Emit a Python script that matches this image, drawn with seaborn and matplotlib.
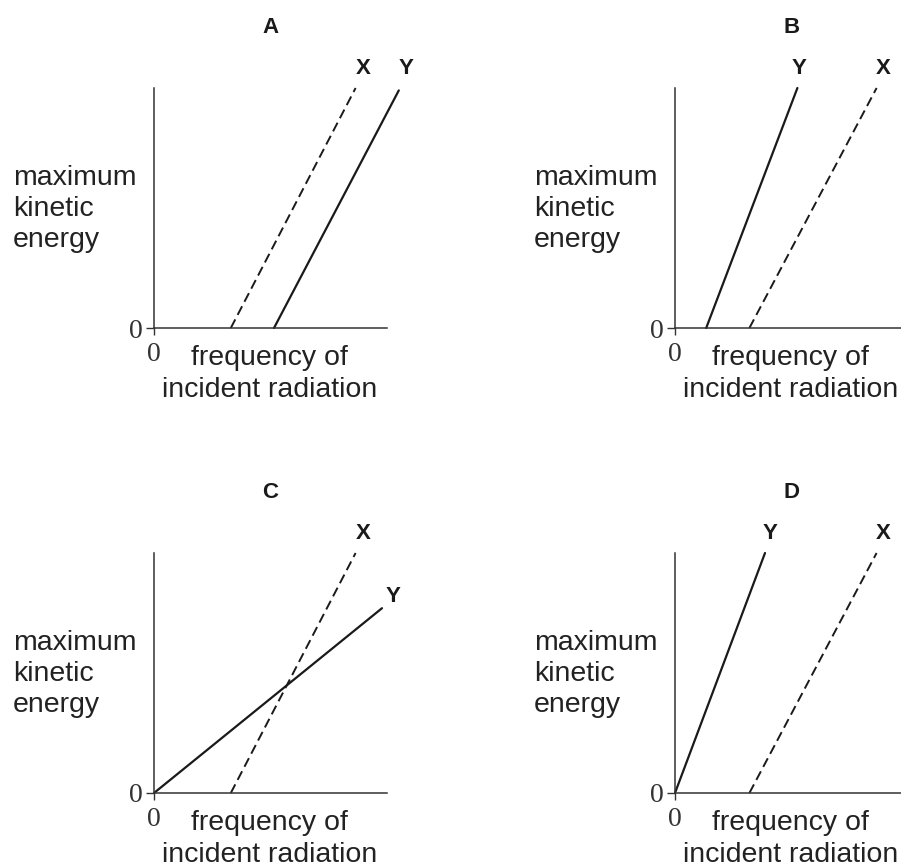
import matplotlib
matplotlib.use("Agg")
import matplotlib.pyplot as plt
import seaborn as sns

# line endpoints (frequency, max KE) in arbitrary units
A_X_freq = [3.2, 8.4];  A_X_ke = [0, 10]
A_Y_freq = [5.0, 10.2]; A_Y_ke = [0, 9.9]
B_Y_freq = [1.3, 5.1];  B_Y_ke = [0, 10]
B_X_freq = [3.1, 8.4];  B_X_ke = [0, 10]
C_X_freq = [3.2, 8.4];  C_X_ke = [0, 10]
C_Y_freq = [0, 9.5];    C_Y_ke = [0, 7.7]
D_Y_freq = [0, 3.75];   D_Y_ke = [0, 10]
D_X_freq = [3.1, 8.4];  D_X_ke = [0, 10]

panel_names = ["A", "B", "C", "D"]
# where the X / Y letters sit (data units)
label_pos = {
    "A": {"X": (8.7, 10.83), "Y": (10.5, 10.83)},
    "B": {"X": (8.67, 10.83), "Y": (5.17, 10.83)},
    "C": {"X": (8.7, 10.83), "Y": (9.96, 8.17)},
    "D": {"X": (8.67, 10.83), "Y": (3.96, 10.83)},
}
lines = {
    "A": {"X": (A_X_freq, A_X_ke), "Y": (A_Y_freq, A_Y_ke)},
    "B": {"X": (B_X_freq, B_X_ke), "Y": (B_Y_freq, B_Y_ke)},
    "C": {"X": (C_X_freq, C_X_ke), "Y": (C_Y_freq, C_Y_ke)},
    "D": {"X": (D_X_freq, D_X_ke), "Y": (D_Y_freq, D_Y_ke)},
}

sns.set_style("white")
plt.rcParams["font.family"] = ["Liberation Sans", "DejaVu Sans"]

W, H = 901, 866
fig = plt.figure(figsize=(W / 100, H / 100), dpi=100)

# axes origin in pixels (left, bottom from top)
origins = {"A": (154, 328), "B": (675, 328), "C": (154, 793), "D": (675, 793)}
size = 252  # px for 10.5 units

ink = "#1a1a1a"
axis_col = "#333333"
for name in panel_names:
    ox, oy = origins[name]
    ax = fig.add_axes([ox / W, 1 - oy / H, size / W, size / H])
    ax.set_xlim(0, 10.5)
    ax.set_ylim(0, 10.5)

    fx, kx = lines[name]["X"]
    fy, ky = lines[name]["Y"]
    sns.lineplot(x=fx, y=kx, ax=ax, color=ink, lw=1.4, linestyle=(0, (5.0, 2.6)),
                 clip_on=False)
    sns.lineplot(x=fy, y=ky, ax=ax, color=ink, lw=1.6, clip_on=False)

    for s in ["top", "right"]:
        ax.spines[s].set_visible(False)
    ax.spines["left"].set_bounds(0, 10)
    ax.spines["bottom"].set_bounds(0, 9.7)
    for s in ["left", "bottom"]:
        ax.spines[s].set_color(axis_col)
        ax.spines[s].set_linewidth(1.1)

    ax.set_xticks([0])
    ax.set_yticks([0])
    ax.set_xticklabels(["0"], family="Liberation Serif", fontsize=20, color=axis_col)
    ax.set_yticklabels(["0"], family="Liberation Serif", fontsize=20, color=axis_col)
    ax.tick_params(axis="y", length=5.8, width=1, pad=2.5, color=axis_col, left=True)
    ax.tick_params(axis="x", length=5, width=1, pad=5, color=axis_col, bottom=True)

    ax.set_xlabel("frequency of\nincident radiation", fontsize=20.5, color="#222222",
                  linespacing=1.28)
    ax.xaxis.set_label_coords(0.457, -0.068)
    ax.set_ylabel("maximum\nkinetic\nenergy", fontsize=20.5, color="#222222",
                  rotation=0, ha="left", va="top", multialignment="left",
                  linespacing=1.25)
    ax.yaxis.set_label_coords(-0.56, 0.648)

    ax.text(4.85, 12.54, name, fontsize=16, fontweight="bold", ha="center",
            va="center", color=ink)
    for key in ["X", "Y"]:
        lx, ly = label_pos[name][key]
        ax.text(lx, ly, key, fontsize=16, fontweight="bold", ha="center",
                va="center", color=ink)

fig.savefig("out.png", dpi=100)
